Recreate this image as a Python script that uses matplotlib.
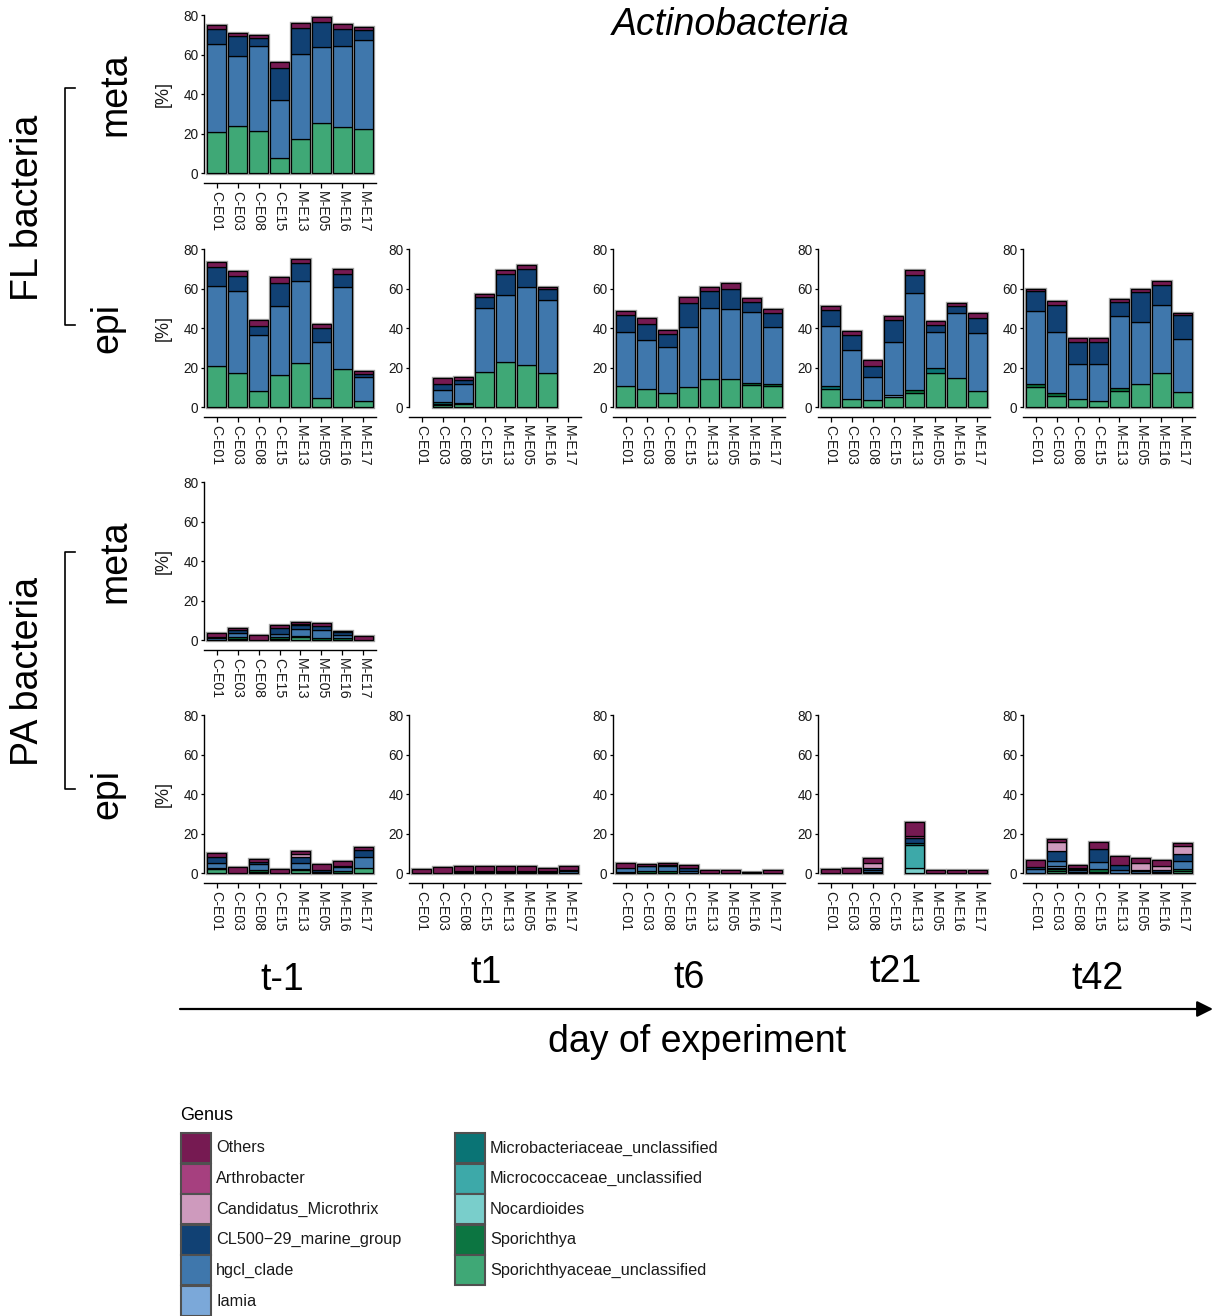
import matplotlib
matplotlib.use("Agg")
import matplotlib.pyplot as plt
from matplotlib.patches import Rectangle, FancyArrowPatch
from matplotlib.lines import Line2D
import numpy as np

plt.rcParams['font.family'] = ['Liberation Sans', 'DejaVu Sans']

# ---------------------------------------------------------------- data
samples = ["C-E01", "C-E03", "C-E08", "C-E15", "M-E13", "M-E05", "M-E16", "M-E17"]
days = ["t-1", "t1", "t6", "t21", "t42"]

genera = ["Others", "Arthrobacter", "Candidatus_Microthrix", "CL500\u221229_marine_group",
          "hgcl_clade", "Iamia", "Microbacteriaceae_unclassified",
          "Micrococcaceae_unclassified", "Nocardioides", "Sporichthya",
          "Sporichthyaceae_unclassified"]
genus_colors = ["#761A52", "#A6407F", "#CE9ABD", "#114174", "#3F77AC", "#7BA8D9",
                "#0A7475", "#3DA9A9", "#79CECB", "#0C7541", "#3FA876"]

OTH, ART, CAN, CL5, HGC, IAM, MBA, MCO, NOC, SPO, SPU = genera

# relative abundance [%] per genus, samples in the order of `samples`
fl_meta_tm1 = {
    SPU: [20.7, 23.7, 21.2, 7.6, 17.2, 25.3, 23.2, 22.2],
    HGC: [44.8, 35.7, 42.9, 29.3, 42.9, 38.3, 41.1, 45.0],
    CL5: [7.4, 9.8, 4.3, 16.3, 13.5, 12.7, 8.6, 5.2],
    OTH: [2.0, 1.5, 1.3, 2.9, 2.2, 2.5, 2.5, 1.7],
}
fl_epi_tm1 = {
    SPU: [21.0, 17.3, 8.0, 16.0, 22.5, 4.5, 19.0, 2.8],
    HGC: [40.5, 41.2, 28.5, 35.0, 41.5, 28.5, 42.0, 12.2],
    CL5: [9.5, 8.0, 4.5, 12.0, 9.0, 7.0, 6.5, 1.5],
    OTH: [2.5, 2.5, 3.0, 3.0, 2.0, 2.0, 2.5, 1.5],
}
fl_epi_t1 = {
    SPU: [0, 1.0, 1.5, 17.8, 22.8, 21.2, 17.3, 0],
    SPO: [0, 0.5, 0.4, 0, 0, 0, 0, 0],
    MBA: [0, 1.0, 0, 0, 0, 0, 0, 0],
    HGC: [0, 5.9, 9.6, 32.2, 33.7, 39.8, 36.7, 0],
    CL5: [0, 3.0, 2.0, 5.5, 11.0, 9.0, 5.5, 0],
    OTH: [0, 3.4, 1.5, 1.5, 2.0, 2.0, 1.5, 0],
}
fl_epi_t6 = {
    SPU: [10.8, 9.2, 7.2, 10.2, 14.0, 14.3, 11.3, 10.8],
    SPO: [0, 0, 0, 0, 0, 0, 1.0, 1.0],
    HGC: [27.2, 24.8, 23.3, 30.3, 36.0, 35.2, 35.7, 28.7],
    CL5: [8.5, 8.0, 6.5, 12.0, 8.5, 10.5, 5.0, 7.0],
    OTH: [2.0, 3.0, 2.0, 3.0, 2.5, 3.0, 2.0, 2.0],
}
fl_epi_t21 = {
    SPU: [9.3, 4.2, 3.3, 5.0, 7.2, 17.3, 14.6, 8.0],
    SPO: [0, 0, 0, 0, 1.3, 0, 0, 0],
    MBA: [1.3, 0, 0, 0, 0, 2.5, 0, 0],
    IAM: [0, 0, 0, 1.3, 0, 0, 0, 0],
    HGC: [30.2, 24.8, 12.0, 26.7, 49.0, 18.0, 32.9, 29.5],
    CL5: [8.5, 7.5, 5.7, 11.0, 9.5, 3.5, 3.5, 7.5],
    OTH: [1.7, 2.0, 3.0, 2.0, 2.5, 2.2, 1.5, 2.5],
}
fl_epi_t42 = {
    SPU: [10.2, 5.8, 4.0, 3.2, 8.2, 11.6, 17.3, 7.6],
    SPO: [1.3, 1.3, 0, 0, 1.3, 0, 0, 0],
    HGC: [37.0, 30.9, 18.0, 18.8, 36.5, 31.4, 34.2, 26.9],
    CL5: [10.0, 13.5, 10.8, 10.7, 7.0, 15.0, 10.5, 12.0],
    OTH: [1.5, 2.0, 2.2, 2.3, 1.5, 2.0, 2.0, 1.0],
}
pa_meta_tm1 = {
    SPU: [0, 0.5, 0, 0.5, 1.5, 0, 0, 0],
    SPO: [0, 1.0, 0, 1.0, 0.5, 1.0, 0.8, 0],
    HGC: [1.0, 2.0, 0, 1.5, 3.5, 4.2, 1.7, 0],
    CL5: [0.6, 1.5, 0, 3.0, 2.0, 1.8, 1.5, 0],
    ART: [0, 0, 0, 0, 0.5, 0, 0, 0],
    OTH: [1.9, 1.0, 2.3, 1.5, 1.0, 1.5, 0.5, 2.0],
}
pa_epi_tm1 = {
    SPU: [2.0, 0, 0.5, 0, 1.5, 0, 0, 2.5],
    SPO: [0.3, 0, 1.0, 0, 0.5, 0, 1.0, 0],
    HGC: [2.7, 0, 3.0, 0, 3.0, 0.5, 2.0, 5.5],
    CL5: [3.0, 0, 1.0, 0, 3.0, 1.0, 0.5, 3.5],
    CAN: [0, 0, 0, 0, 1.5, 0, 0, 0],
    OTH: [2.0, 3.2, 1.5, 2.2, 1.5, 3.0, 2.5, 1.5],
}
pa_epi_t1 = {
    HGC: [0, 0, 0.4, 0.3, 0.5, 0.5, 0.5, 1.0],
    CL5: [0, 0, 0.6, 0.9, 0.5, 0.5, 0.5, 0.5],
    OTH: [1.8, 2.8, 2.8, 2.3, 2.3, 2.3, 1.5, 2.3],
}
pa_epi_t6 = {
    SPO: [0.5, 1.0, 0.8, 0, 0, 0, 0, 0],
    HGC: [2.0, 2.3, 2.7, 1.0, 0, 0, 0, 0],
    CL5: [0, 0.2, 0.5, 1.5, 0, 0, 0.3, 0],
    OTH: [2.8, 1.3, 1.3, 1.5, 1.5, 1.3, 0.4, 1.3],
}
pa_epi_t21 = {
    NOC: [0, 0, 0, 0, 2.5, 0, 0, 0],
    MCO: [0, 0, 0, 0, 11.7, 0, 0, 0],
    MBA: [0, 0, 0, 0, 0.8, 0, 0, 0],
    IAM: [0, 0, 0.5, 0, 0, 0, 0, 0],
    HGC: [0, 0, 1.0, 0, 0, 0, 0, 0],
    CL5: [0, 0, 1.2, 0, 2.5, 0, 0, 0],
    CAN: [0, 0, 2.3, 0, 0, 0, 0, 0],
    ART: [0, 0, 0, 0, 1.2, 0, 0, 0],
    OTH: [2.0, 2.3, 2.5, 0, 7.3, 1.5, 1.3, 1.5],
}
pa_epi_t42 = {
    SPU: [0, 0.8, 0, 0.5, 0, 0, 0, 1.0],
    SPO: [0, 1.2, 0, 1.5, 0, 0, 0, 1.0],
    NOC: [0, 0.5, 0, 0, 0, 0, 0, 0],
    IAM: [0, 1.0, 0.5, 0, 0, 0, 0, 0],
    HGC: [1.8, 2.5, 1.0, 3.5, 1.5, 0.8, 0.5, 4.0],
    CL5: [1.2, 5.0, 0.3, 6.5, 2.5, 0.7, 1.0, 3.5],
    CAN: [0, 4.5, 0.7, 0, 0, 3.5, 2.3, 4.0],
    OTH: [3.8, 1.5, 1.8, 3.5, 4.5, 2.5, 2.7, 1.5],
}

# (row, column) -> panel data; rows: FL meta, FL epi, PA meta, PA epi
panels = {
    (0, 0): fl_meta_tm1,
    (1, 0): fl_epi_tm1, (1, 1): fl_epi_t1, (1, 2): fl_epi_t6,
    (1, 3): fl_epi_t21, (1, 4): fl_epi_t42,
    (2, 0): pa_meta_tm1,
    (3, 0): pa_epi_tm1, (3, 1): pa_epi_t1, (3, 2): pa_epi_t6,
    (3, 3): pa_epi_t21, (3, 4): pa_epi_t42,
}

# ---------------------------------------------------------------- layout
W_PX, H_PX = 1216, 1316
fig = plt.figure(figsize=(W_PX / 100, H_PX / 100), dpi=100)


def fx(px):
    return px / W_PX


def fy(py):
    return 1 - py / H_PX


col_left = [204, 409, 613, 818, 1023]
row_top = [15, 249, 482, 715]
AX_W, AX_H = 172, 168
Y_BOTTOM = -5.06
BAR_W = 0.92
TXT = "#1a1a1a"


def draw_panel(ax, data):
    x = np.arange(len(samples))
    totals = np.zeros(len(samples))
    for g in genera:
        if g in data:
            totals += np.array(data[g], dtype=float)
    keep = totals > 0
    # light grey rim around each stacked bar
    ax.bar(x[keep], totals[keep], width=BAR_W, color="none",
           edgecolor="#a3a3a3", linewidth=2.4, zorder=1, clip_on=False)
    bottom = np.zeros(len(samples))
    for g, c in zip(reversed(genera), reversed(genus_colors)):
        if g not in data:
            continue
        vals = np.array(data[g], dtype=float)
        m = vals > 0
        ax.bar(x[m], vals[m], bottom=bottom[m], width=BAR_W, color=c,
               edgecolor="black", linewidth=0.9, zorder=2, clip_on=False)
        bottom += vals

    ax.set_xlim(-0.6, 7.6)
    ax.set_ylim(Y_BOTTOM, 80)
    for s in ("top", "right"):
        ax.spines[s].set_visible(False)
    ax.spines["left"].set_bounds(0, 80)
    for s in ("left", "bottom"):
        ax.spines[s].set_linewidth(1.0)
    ax.set_yticks([0, 20, 40, 60, 80])
    ax.set_xticks(x)
    ax.set_xticklabels(samples, rotation=-90)
    ax.tick_params(axis="y", direction="out", length=2.5, width=0.9, pad=1.5,
                   labelsize=9.8, labelcolor=TXT)
    ax.tick_params(axis="x", direction="out", length=3.5, width=0.9, pad=2.5,
                   labelsize=10.2, labelcolor=TXT)
    ax.patch.set_alpha(0)


for (r, c), data in panels.items():
    left = col_left[c]
    top = row_top[r]
    ax = fig.add_axes([fx(left), fy(top + AX_H), AX_W / W_PX, AX_H / H_PX])
    draw_panel(ax, data)
    if c == 0:
        fig.text(fx(163), fy(top + 79), "[%]", rotation=90, fontsize=13,
                 ha="center", va="center", color=TXT)

# title
fig.text(fx(731), fy(25), "Actinobacteria", style="italic", fontsize=27,
         ha="center", va="center")

# fraction / layer labels with brackets
for name, y0, y1 in (("FL bacteria", 88, 325), ("PA bacteria", 552, 789)):
    fig.text(fx(28), fy((y0 + y1) / 2 + 1), name, rotation=90, fontsize=27,
             ha="center", va="center")
    xs = [fx(75), fx(65), fx(65), fx(75)]
    ys = [fy(y0), fy(y0), fy(y1), fy(y1)]
    fig.add_artist(Line2D(xs, ys, color="black", linewidth=1.2,
                          transform=fig.transFigure))

for r, lab in enumerate(["meta", "epi", "meta", "epi"]):
    cy = row_top[r] + 79
    xpos = 115 if lab == "meta" else 107
    fig.text(fx(xpos), fy(cy), lab, rotation=90, fontsize=27,
             ha="center", va="center")

# sampling day labels and time arrow
day_x = [282, 486, 689, 895, 1098]
day_y = [980, 973, 978, 972, 979]
for lab, xx, yy in zip(days, day_x, day_y):
    fig.text(fx(xx), fy(yy), lab, fontsize=27, ha="center", va="center")

fig.add_artist(FancyArrowPatch((fx(180), fy(1009)), (fx(1213), fy(1009)),
                               transform=fig.transFigure, arrowstyle="-|>",
                               mutation_scale=24, linewidth=1.6, color="black",
                               shrinkA=0, shrinkB=0))
fig.text(fx(697), fy(1042), "day of experiment", fontsize=27,
         ha="center", va="center")

# legend
fig.text(fx(180), fy(1115), "Genus", fontsize=13, ha="left", va="center")
KEY = 30
STEP = 30.6
legend_cols = [(181, 216, genera[:6], genus_colors[:6]),
               (455, 490, genera[6:], genus_colors[6:])]
for kx, tx, names, cols in legend_cols:
    for i, (n, col) in enumerate(zip(names, cols)):
        ky = 1133 + i * STEP
        fig.add_artist(Rectangle((fx(kx), fy(ky + KEY)), KEY / W_PX, KEY / H_PX,
                                 facecolor=col, edgecolor="#505050",
                                 linewidth=1.5, transform=fig.transFigure))
        fig.text(fx(tx), fy(ky + KEY / 2), n, fontsize=11.7, ha="left",
                 va="center", color=TXT)

fig.savefig("out.png", dpi=100)
